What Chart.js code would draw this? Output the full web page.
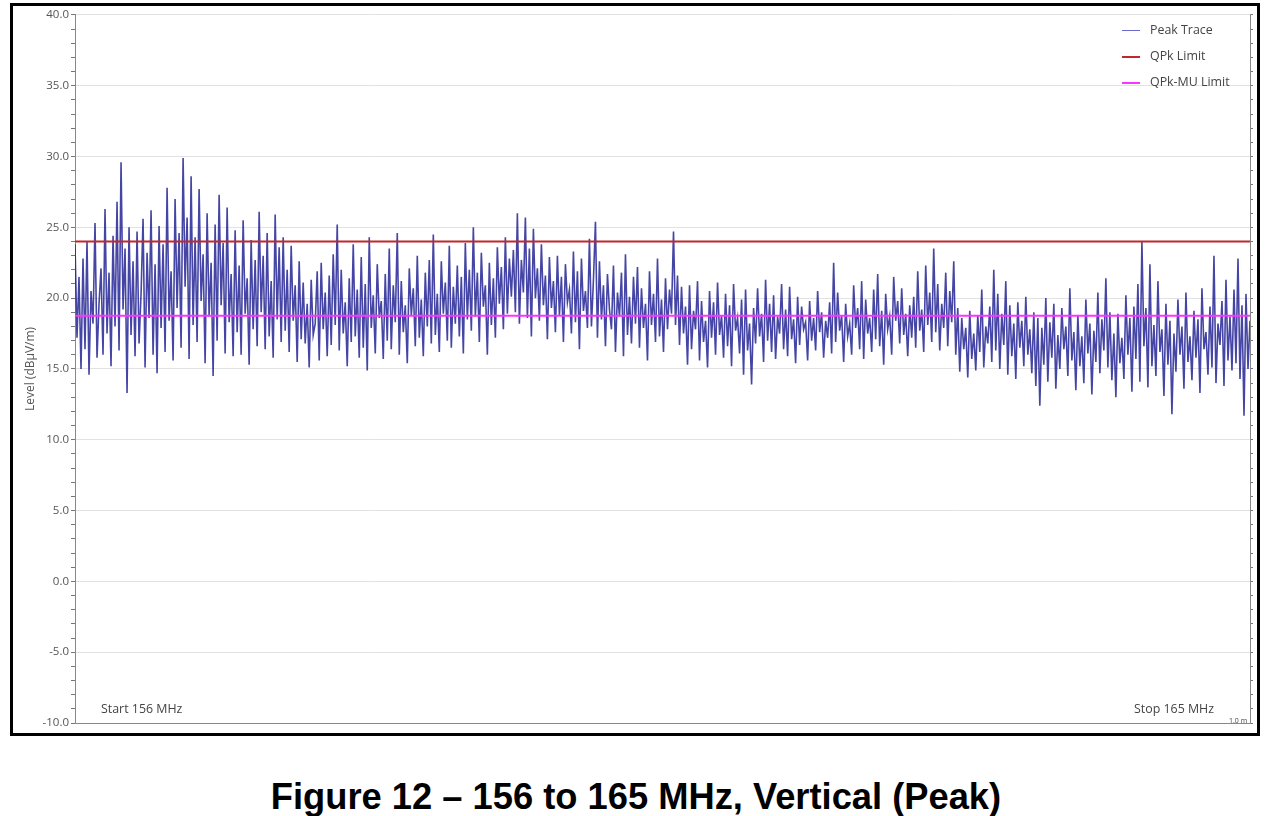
<!DOCTYPE html>
<html>
<head>
<meta charset="utf-8">
<script src="https://cdn.jsdelivr.net/npm/chart.js@4"></script>
<style>
  html, body { margin:0; padding:0; background:#fff; width:1272px; height:816px; overflow:hidden; }
  #frame { position:absolute; left:10px; top:3px; width:1250px; height:733px; box-sizing:border-box; border:3px solid #000; background:#fff; }
  #wrap { position:absolute; left:0; top:0; width:1244px; height:727px; }
  .lbl { position:absolute; font-family:"Open Sans", sans-serif; font-size:12.4px; color:#444; white-space:nowrap; line-height:14px; }
  .leg { position:absolute; font-family:"Open Sans", sans-serif; font-size:12.4px; color:#444; white-space:nowrap; line-height:14px; }
  .swatch { position:absolute; width:18px; height:0; }
  #caption { position:absolute; left:0; width:1272px; top:777px; text-align:center; font-family:"Liberation Sans", Arial, sans-serif; font-weight:bold; font-size:36.3px; color:#000; line-height:40px; }
</style>
</head>
<body>
<div id="frame">
  <div id="wrap"><canvas id="c" width="1244" height="727"></canvas></div>
</div>
<div class="swatch" style="left:1122px; top:30px; border-top:1px solid #6a6ad0;"></div>
<div class="leg" style="left:1150px; top:23px;">Peak Trace</div>
<div class="swatch" style="left:1122px; top:56px; border-top:2px solid #c0282a;"></div>
<div class="leg" style="left:1150px; top:49px;">QPk Limit</div>
<div class="swatch" style="left:1122px; top:82px; border-top:2px solid #ff33ff;"></div>
<div class="leg" style="left:1150px; top:75px;">QPk-MU Limit</div>
<div class="lbl" style="left:101px; top:702px;">Start 156 MHz</div>
<div class="lbl" style="left:1134px; top:702px;">Stop 165 MHz</div>
<div class="lbl" style="left:1229px; top:717px; font-size:7px; line-height:8px;">1.0 m</div>
<div id="caption">Figure 12 – 156 to 165 MHz, Vertical (Peak)</div>
<script>
const startMHz = 156;
const stopMHz = 165;
const qpkLimit = 24.0;
const qpkMuLimit = 18.75;
const yTickLabels = ["-10.0","-5.0","0.0","5.0","10.0","15.0","20.0","25.0","30.0","35.0","40.0"];
const peakTrace = [
23.8,17.2,21.5,15.0,22.8,16.4,24.0,14.6,20.5,18.2,25.3,15.8,19.6,22.1,16.0,26.3,17.5,21.8,15.2,24.4,
18.0,26.8,16.3,29.6,19.2,23.5,13.3,25.0,17.4,22.6,15.9,24.7,16.8,20.3,25.6,15.1,23.2,18.6,26.2,16.0,
22.4,14.7,25.1,17.9,23.8,16.2,27.8,18.4,21.9,15.6,27.0,19.3,24.6,16.5,29.9,20.8,25.7,15.7,28.6,18.1,
24.3,16.9,27.7,19.8,23.1,15.4,26.0,18.7,22.5,14.5,25.2,17.0,27.3,19.5,23.9,16.1,26.4,18.3,21.7,15.9,
24.8,17.6,22.3,16.0,25.5,18.9,21.4,15.3,24.1,17.8,22.7,16.6,26.1,19.0,23.0,16.4,24.6,17.3,21.2,15.8,
25.9,18.5,23.6,16.9,24.3,17.7,22.0,16.2,23.7,18.4,20.9,15.5,22.6,17.1,21.1,16.8,19.6,15.1,21.3,17.4,
18.2,21.9,15.6,22.5,17.8,20.4,15.9,21.6,16.7,23.1,18.1,25.2,16.3,22.0,17.5,19.7,15.2,21.4,16.9,23.8,
17.3,20.6,15.8,22.9,16.5,21.0,14.9,24.3,17.9,20.2,16.1,22.4,18.6,19.8,15.7,21.7,17.0,23.5,16.4,20.9,
18.3,24.6,16.0,21.2,17.6,19.5,15.4,22.1,18.8,20.7,16.6,23.0,17.2,19.9,15.9,21.8,18.0,22.7,16.8,24.5,
17.4,20.3,16.2,22.6,18.9,21.1,17.0,23.7,16.5,20.8,18.2,22.3,17.3,21.5,16.1,23.9,18.5,22.0,17.7,25.0,
18.7,21.8,16.9,23.2,19.4,20.9,16.0,22.5,18.1,21.4,17.2,23.6,19.6,22.2,17.8,24.3,18.9,22.8,20.1,23.4,
19.0,26.0,18.2,22.7,20.4,25.7,18.6,23.5,17.3,24.9,20.0,22.1,18.4,23.8,19.5,21.6,17.1,22.9,19.3,21.2,
17.6,23.0,18.8,21.5,16.9,22.4,19.7,20.6,17.5,23.3,18.3,21.9,16.4,22.8,19.1,20.5,17.9,24.2,18.0,21.3,
25.4,17.2,22.6,18.5,20.9,16.6,21.7,19.2,17.8,22.3,16.2,20.4,18.7,21.8,15.9,23.1,17.4,20.1,16.8,21.5,
18.2,22.2,16.5,20.7,17.9,19.6,15.6,21.9,18.1,20.3,16.9,22.8,17.3,19.9,16.2,21.4,17.8,20.6,18.9,24.7,
18.1,21.6,16.7,20.8,17.5,19.4,15.3,20.9,16.4,19.1,17.8,21.2,15.6,19.8,16.9,18.4,15.1,20.5,17.2,19.7,
16.0,21.1,17.4,18.8,15.8,20.3,16.6,19.5,15.2,21.0,17.7,18.6,16.1,19.9,14.6,20.6,16.3,18.2,13.9,19.3,
16.8,20.7,17.3,18.9,15.5,21.3,17.0,19.6,16.2,20.2,15.7,18.7,17.5,21.0,16.4,19.2,15.9,20.8,17.1,18.5,
15.4,20.1,16.7,19.4,17.8,18.3,15.6,19.8,17.0,18.6,16.3,20.5,17.6,19.0,15.8,18.4,17.2,19.7,16.1,22.5,
16.9,20.4,17.7,18.8,15.5,19.6,17.3,18.2,16.0,20.9,17.9,19.3,16.4,21.2,15.7,19.9,17.5,18.6,16.2,20.6,
17.1,21.7,16.6,19.1,15.3,20.3,17.8,18.7,16.0,21.5,18.4,19.8,16.8,20.7,17.4,18.9,15.9,19.5,17.2,20.1,
16.5,21.9,17.7,19.2,16.2,22.3,18.1,20.4,16.9,23.5,17.6,21.0,16.3,19.6,17.9,21.8,16.6,20.5,18.3,22.6,
16.0,19.3,14.8,18.6,16.4,17.9,14.4,19.1,15.7,17.5,14.9,18.8,16.2,20.6,15.1,18.0,16.8,19.4,15.5,22.0,
16.3,20.3,15.0,18.9,16.7,21.2,14.6,19.5,15.9,18.2,14.3,19.7,16.5,18.4,15.2,20.1,16.0,17.8,14.7,19.0,
13.8,18.6,12.4,17.9,15.3,20.0,14.1,18.3,15.8,19.6,13.6,17.4,15.0,19.3,16.4,18.0,14.5,20.7,15.6,17.6,
13.5,18.8,15.2,17.3,14.0,19.9,16.1,18.2,13.2,17.7,15.5,20.4,14.7,18.5,16.3,21.4,15.1,19.0,14.2,17.5,
13.0,18.9,15.4,17.2,14.3,20.2,16.0,18.6,13.4,19.4,15.7,21.0,14.1,24.0,16.6,19.3,13.7,22.4,15.2,18.1,
14.5,21.2,16.2,17.8,13.1,19.6,15.3,18.4,11.8,17.5,14.8,19.9,16.0,18.0,13.6,20.4,15.5,17.3,14.2,19.1,
15.8,18.5,13.3,20.7,16.4,17.6,14.6,19.4,15.1,23.0,14.0,18.2,16.7,19.8,13.8,21.3,15.6,18.7,14.9,20.6,
15.4,22.8,14.3,19.5,11.7,20.3,15.0,18.4
];

const step = (stopMHz - startMHz) / (peakTrace.length - 1);
const traceData = peakTrace.map((v, i) => ({ x: startMHz + i * step, y: v }));

new Chart(document.getElementById('c'), {
  type: 'line',
  data: {
    datasets: [
      { label: 'Peak Trace', data: traceData, borderColor: 'rgba(28,28,145,0.82)', borderWidth: 1.6, pointRadius: 0, tension: 0, order: 3 },
      { label: 'QPk Limit', data: [{x:startMHz,y:qpkLimit},{x:stopMHz,y:qpkLimit}], borderColor: '#c0282a', borderWidth: 2, pointRadius: 0, order: 2 },
      { label: 'QPk-MU Limit', data: [{x:startMHz,y:qpkMuLimit},{x:stopMHz,y:qpkMuLimit}], borderColor: '#ff33ff', borderWidth: 2, pointRadius: 0, order: 1 }
    ]
  },
  options: {
    responsive: false,
    animation: false,
    layout: { padding: { top: 7, left: 0, right: 0, bottom: 0 } },
    plugins: { legend: { display: false }, tooltip: { enabled: false } },
    scales: {
      x: {
        type: 'linear', min: startMHz, max: stopMHz,
        ticks: { display: false },
        grid: { display: false, drawTicks: false },
        border: { display: true, color: '#888', width: 1 },
        afterFit: s => { s.height = 10; }
      },
      y: {
        type: 'linear', position: 'left', min: -10, max: 40,
        ticks: {
          stepSize: 1, autoSkip: false, maxTicksLimit: 100, padding: 2,
          color: '#555', font: { family: 'Open Sans', size: 11.5 },
          callback: v => (v % 5 === 0 ? yTickLabels[(v + 10) / 5] : '')
        },
        grid: {
          color: c => (c.tick && c.tick.value % 5 === 0 ? '#e2e2e2' : 'rgba(0,0,0,0)'),
          tickColor: '#777', tickLength: 4, lineWidth: 1
        },
        border: { display: true, color: '#888', width: 1 },
        title: { display: true, text: 'Level (dBµV/m)', color: '#555', font: { family: 'Open Sans', size: 12 }, padding: { top: 10, bottom: 0 } },
        afterFit: s => { s.width = 62; }
      },
      y2: {
        type: 'linear', position: 'right', min: -10, max: 40,
        ticks: { display: false, stepSize: 1, maxTicksLimit: 100, autoSkip: false },
        grid: { drawOnChartArea: false, tickColor: '#777', tickLength: 3 },
        border: { display: true, color: '#888', width: 1 },
        afterFit: s => { s.width = 7; }
      }
    }
  }
});
</script>
</body>
</html>
